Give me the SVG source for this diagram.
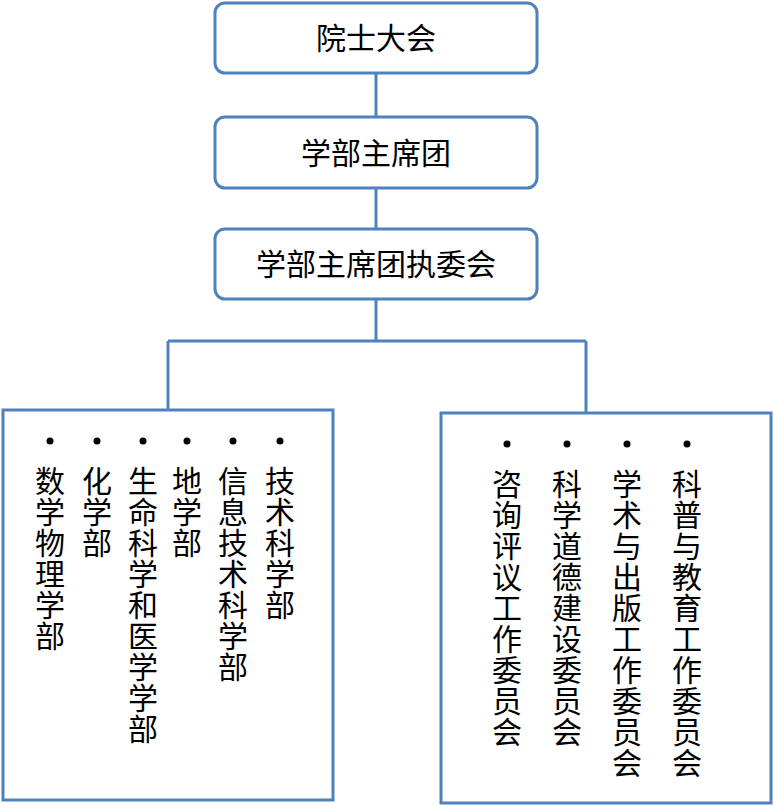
<svg xmlns="http://www.w3.org/2000/svg" width="774" height="806" viewBox="0 0 774 806">
<style>
.b{fill:#fff;stroke:#4f81bd;stroke-width:3}
.t{font-family:"Noto Sans CJK SC",sans-serif;font-size:30px;fill:#000}
.v{font-family:"Noto Sans CJK SC",sans-serif;font-size:30px;letter-spacing:1px;fill:#000;writing-mode:vertical-rl;text-anchor:start}
.c{fill:none;stroke:#4f81bd;stroke-width:3}
</style>
<rect width="774" height="806" fill="#fff"/>
<g id="connectors">
<path class="c" d="M376 73V117M376 188V229M376 299V341M168 341H586M168 341V410M586 341V413"/>
</g>
<g id="n1"><rect class="b" x="215" y="3" width="322" height="70" rx="10"/><text class="t" x="376" y="49" text-anchor="middle">院士大会</text></g>
<g id="n2"><rect class="b" x="215" y="117" width="322" height="71" rx="10"/><text class="t" x="376" y="164" text-anchor="middle">学部主席团</text></g>
<g id="n3"><rect class="b" x="215" y="229" width="322" height="70" rx="10"/><text class="t" x="376" y="275" text-anchor="middle">学部主席团执委会</text></g>
<g id="left">
<rect class="b" x="3" y="410" width="330" height="390"/>
<g fill="#000"><circle cx="50" cy="441" r="3.5"/><circle cx="97" cy="441" r="3.5"/><circle cx="143" cy="441" r="3.5"/><circle cx="187" cy="441" r="3.5"/><circle cx="233" cy="441" r="3.5"/><circle cx="280" cy="441" r="3.5"/></g>
<text class="v" x="50" y="466">数学物理学部</text>
<text class="v" x="97" y="466">化学部</text>
<text class="v" x="143" y="466">生命科学和医学学部</text>
<text class="v" x="187" y="466">地学部</text>
<text class="v" x="233" y="466">信息技术科学部</text>
<text class="v" x="280" y="466">技术科学部</text>
</g>
<g id="right">
<rect class="b" x="441" y="413" width="330" height="390"/>
<g fill="#000"><circle cx="507" cy="444" r="3.5"/><circle cx="567" cy="444" r="3.5"/><circle cx="627" cy="444" r="3.5"/><circle cx="687" cy="444" r="3.5"/></g>
<text class="v" x="507" y="469">咨询评议工作委员会</text>
<text class="v" x="567" y="469">科学道德建设委员会</text>
<text class="v" x="627" y="469">学术与出版工作委员会</text>
<text class="v" x="687" y="469">科普与教育工作委员会</text>
</g>
</svg>
